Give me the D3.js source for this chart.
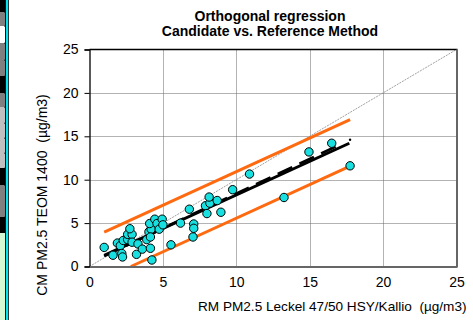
<!DOCTYPE html>
<html>
<head>
<meta charset="utf-8">
<script src="https://cdn.jsdelivr.net/npm/d3@7"></script>
<style>
  html, body { margin: 0; padding: 0; background: #fff; }
  svg { display: block; font-family: "Liberation Sans", Arial, sans-serif; }
  text { white-space: pre; }
</style>
</head>
<body>
<svg id="chart" width="473" height="320"></svg>
<script>
// Paired measurements: reference method (x) vs candidate method (y), µg/m3
const refValues = [1.0, 1.6, 1.9, 2.1, 2.2, 2.25, 2.3, 2.6, 2.6, 2.9, 2.75, 2.9, 3.2, 3.3, 3.6,
  3.9, 4.05, 4.15, 4.2, 4.25, 4.1, 4.15, 4.45, 4.6, 4.75, 4.95, 5.0, 5.55, 6.2, 6.8,
  7.1, 7.1, 7.05, 7.9, 8.0, 8.2, 8.15, 8.7, 8.95, 9.75, 10.9, 13.25, 14.95, 16.5, 17.75];
const candValues = [2.2, 1.3, 2.7, 2.4, 1.5, 1.1, 3.0, 3.1, 3.7, 3.7, 4.35, 2.8, 1.4, 2.6, 2.0,
  3.1, 4.0, 2.1, 4.3, 0.75, 4.95, 3.4, 5.45, 4.95, 4.3, 5.45, 4.8, 2.5, 5.0, 6.6,
  4.9, 4.4, 3.4, 7.0, 6.1, 7.3, 8.0, 7.6, 6.25, 8.85, 10.65, 7.95, 13.2, 14.2, 11.6];

// Regression lines: [slope, intercept, xStart, xEnd]
const orthoFit = [0.774, 0.5, 1.0, 17.7];
const dashedFit = [0.80, 0.4, 1.0, 17.2];
const bandHalfWidth = 2.68;
const bandRange = [1.0, 17.75];

const tickValues = [0, 5, 10, 15, 20, 25];
const titleLines = ["Orthogonal regression", "Candidate vs. Reference Method"];
const xTitle = "RM PM2.5 Leckel 47/50 HSY/Kallio  (µg/m3)";
const yTitle = "CM PM2.5 TEOM 1400  (µg/m3)";

// Side strip segments: [yTop, yBottom, fill]
const stripSegments = [
  [0, 12, "#000"], [12, 26, "#808080"], [26, 43, "#fff"], [43, 60, "#808080"],
  [60, 76, "#808080"], [76, 93, "#000"], [93, 107, "#808080"], [107, 123, "#c0c0c0"],
  [123, 138, "#c0c0c0"], [138, 153, "#c0c0c0"], [153, 168, "#c0c0c0"], [168, 185, "#000"],
  [185, 217, "#808080"], [217, 233, "#000"], [233, 320, "#d4f7d4"]
];

const svg = d3.select("#chart");
const m = { left: 89.5, right: 456.5, top: 49.5, bottom: 266.5 };
const x = d3.scaleLinear().domain([0, 25]).range([m.left, m.right]);
const y = d3.scaleLinear().domain([0, 25]).range([m.bottom, m.top]);

// side strip
const strip = svg.append("g");
strip.selectAll("rect.seg").data(stripSegments).join("rect")
  .attr("x", 0).attr("y", d => d[0]).attr("width", 5).attr("height", d => d[1] - d[0])
  .attr("fill", d => d[2]);
strip.selectAll("rect.sep").data(stripSegments.slice(1, 14)).join("rect")
  .attr("x", 4.5).attr("y", d => d[0] - 0.5).attr("width", 1.5).attr("height", 1.5).attr("fill", "#000");
strip.append("rect").attr("x", 5).attr("y", 0).attr("width", 1).attr("height", 320).attr("fill", "#111");
strip.append("rect").attr("x", 6).attr("y", 0).attr("width", 2).attr("height", 320).attr("fill", "#00e5ee");
strip.append("rect").attr("x", 8).attr("y", 0).attr("width", 1).attr("height", 320).attr("fill", "#333");

// grid
const grid = svg.append("g").attr("stroke", "#666").attr("stroke-width", 1).attr("stroke-dasharray", "1,1");
grid.selectAll("line.h").data(tickValues.slice(1, 5)).join("line")
  .attr("x1", m.left).attr("x2", m.right)
  .attr("y1", d => Math.round(y(d)) + 0.5).attr("y2", d => Math.round(y(d)) + 0.5);
grid.selectAll("line.v").data(tickValues.slice(1, 5)).join("line")
  .attr("y1", m.top).attr("y2", m.bottom)
  .attr("x1", d => Math.round(x(d)) + 0.5).attr("x2", d => Math.round(x(d)) + 0.5);

// 1:1 line
svg.append("line")
  .attr("x1", x(0)).attr("y1", y(0)).attr("x2", x(25)).attr("y2", y(25))
  .attr("stroke", "#888").attr("stroke-width", 0.8).attr("stroke-dasharray", "2,1");

const fitLine = (f, x0, x1) => [[x0, f[0] * x0 + f[1]], [x1, f[0] * x1 + f[1]]];
const line = d3.line().x(d => x(d[0])).y(d => y(d[1]));

// confidence band lines
const upper = [orthoFit[0], orthoFit[1] + bandHalfWidth];
const lower = [orthoFit[0], orthoFit[1] - bandHalfWidth];
const lowerStart = Math.max(bandRange[0], -lower[1] / lower[0]);
svg.append("path").attr("d", line(fitLine(upper, bandRange[0], bandRange[1])))
  .attr("stroke", "#ff6a10").attr("stroke-width", 3).attr("fill", "none");
svg.append("path").attr("d", line(fitLine(lower, lowerStart, bandRange[1])))
  .attr("stroke", "#ff6a10").attr("stroke-width", 3).attr("fill", "none");

// regression lines
svg.append("path").attr("d", line(fitLine(orthoFit, orthoFit[2], orthoFit[3])))
  .attr("stroke", "#000").attr("stroke-width", 3).attr("fill", "none");
svg.append("path").attr("d", line(fitLine(dashedFit, dashedFit[2], dashedFit[3])))
  .attr("stroke", "#000").attr("stroke-width", 2.6).attr("fill", "none")
  .attr("stroke-dasharray", "16,8");
svg.append("circle")
  .attr("cx", x(dashedFit[3] + 0.55)).attr("cy", y(dashedFit[0] * (dashedFit[3] + 0.55) + dashedFit[1]))
  .attr("r", 1.2).attr("fill", "#000");

// points
svg.append("g").selectAll("circle").data(refValues.map((v, i) => [v, candValues[i]])).join("circle")
  .attr("cx", d => x(d[0])).attr("cy", d => y(d[1])).attr("r", 4.2)
  .attr("fill", "#19e0e0").attr("stroke", "#000").attr("stroke-width", 1);

// frame
svg.append("line").attr("x1", m.left).attr("x2", m.right + 1).attr("y1", m.top).attr("y2", m.top)
  .attr("stroke", "#000").attr("stroke-width", 1.5);
svg.append("line").attr("x1", m.right + 0.5).attr("x2", m.right + 0.5).attr("y1", m.top).attr("y2", m.bottom + 1)
  .attr("stroke", "#666").attr("stroke-width", 2);

// axes
const yAxis = svg.append("g").attr("transform", `translate(${m.left},0)`)
  .call(d3.axisLeft(y).tickValues(tickValues).tickSize(5).tickPadding(6));
const xAxis = svg.append("g").attr("transform", `translate(0,${m.bottom})`)
  .call(d3.axisBottom(x).tickValues(tickValues).tickSize(0).tickPadding(11));
yAxis.select(".domain").attr("stroke", "#000").attr("stroke-width", 1.3);
xAxis.select(".domain").attr("stroke", "#666").attr("stroke-width", 2.2);
[yAxis, xAxis].forEach(a => a.selectAll("text")
  .attr("font-family", "Liberation Sans, Arial, sans-serif").attr("font-size", 14).attr("fill", "#000"));

// titles
svg.append("text").attr("x", 270).attr("text-anchor", "middle")
  .attr("font-weight", "bold").attr("font-size", 14)
  .selectAll("tspan").data(titleLines).join("tspan")
  .attr("x", 270).attr("y", (d, i) => 21 + i * 15).text(d => d);
svg.append("text").attr("x", 198).attr("y", 311).attr("font-size", 13.6).text(xTitle);
svg.append("text").attr("transform", "translate(47,195) rotate(-90)")
  .attr("text-anchor", "middle").attr("font-size", 14).text(yTitle);
</script>
</body>
</html>
